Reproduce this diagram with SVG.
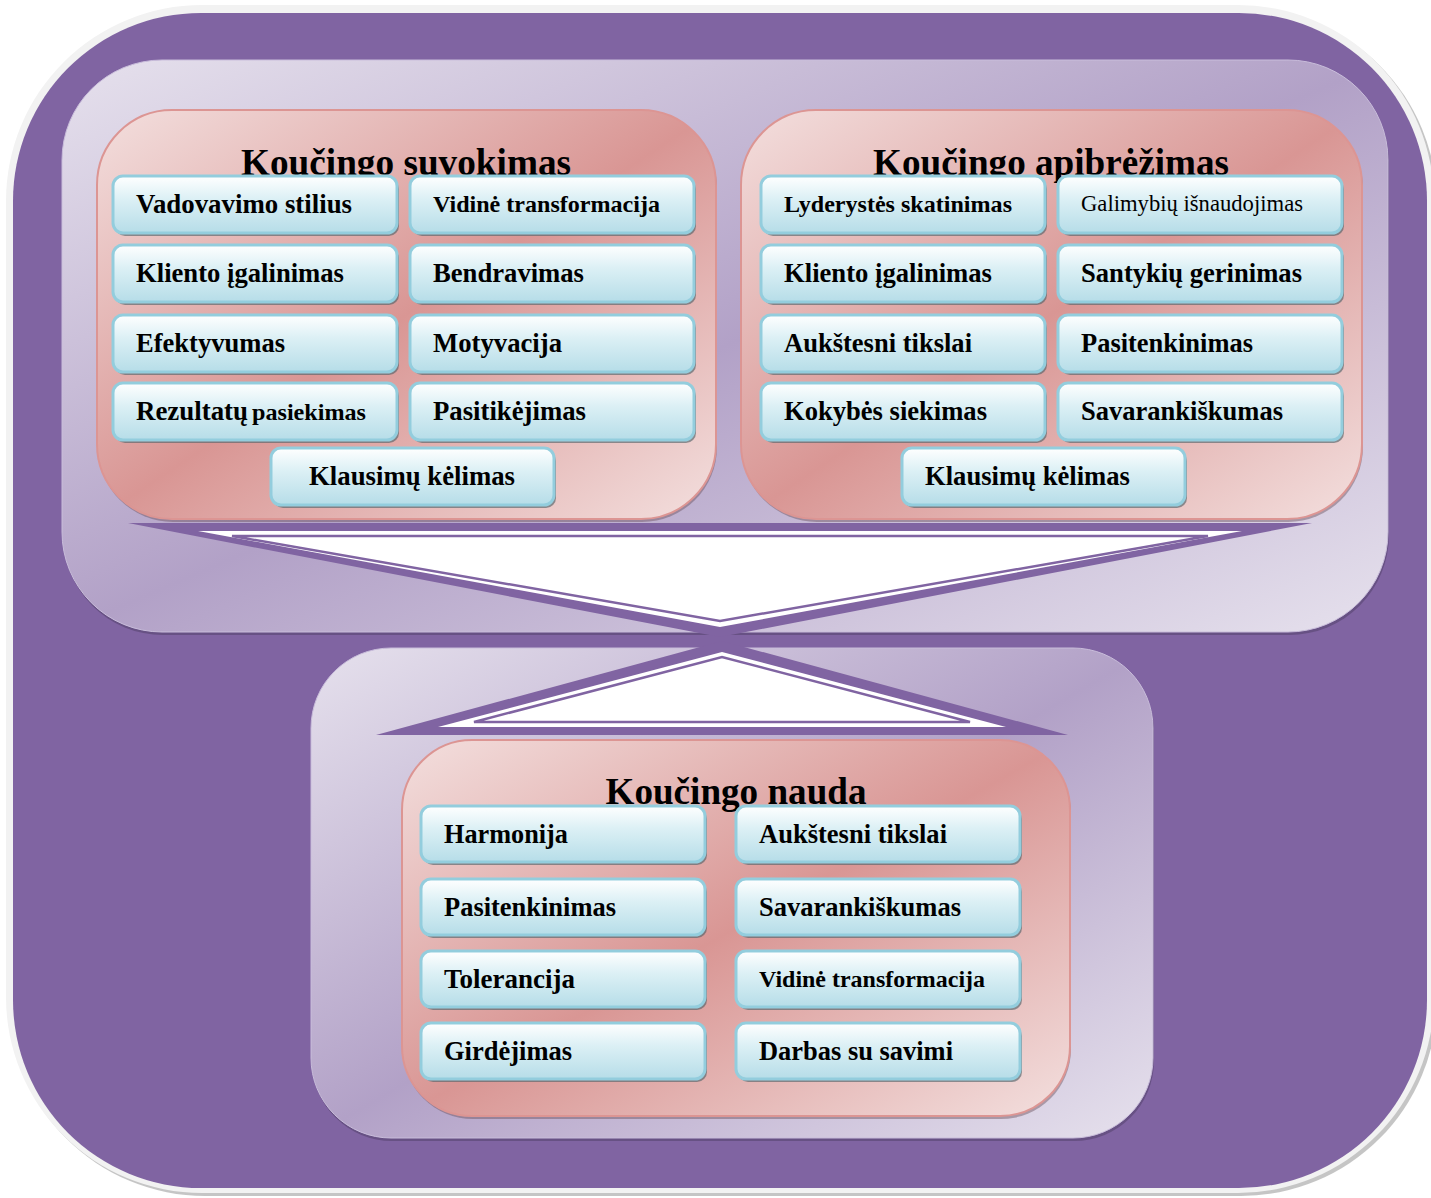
<svg xmlns="http://www.w3.org/2000/svg" width="1431" height="1198" viewBox="0 0 1431 1198">
<defs>
<linearGradient id="lav" x1="0" y1="0" x2="1" y2="1">
<stop offset="0" stop-color="#e6e1ed"/><stop offset="0.5" stop-color="#b2a1c7"/><stop offset="1" stop-color="#e6e1ed"/>
</linearGradient>
<linearGradient id="pink" x1="0" y1="0" x2="1" y2="1">
<stop offset="0" stop-color="#f3dfde"/><stop offset="0.5" stop-color="#d99694"/><stop offset="1" stop-color="#f3dfde"/>
</linearGradient>
<linearGradient id="cyan" x1="0" y1="0" x2="0" y2="1">
<stop offset="0" stop-color="#ffffff"/><stop offset="0.4" stop-color="#dcf0f5"/><stop offset="1" stop-color="#b6dde8"/>
</linearGradient>
</defs>
<style>
.cell{fill:url(#cyan);stroke:#93cddd;stroke-width:3}
.csh{fill:#55666b;opacity:0.65}
.psh{fill:#6b4f5a;opacity:0.45}
.lsh{fill:#4a3a60;opacity:0.45}
.lav{fill:url(#lav);stroke:#c9bddb;stroke-width:1}
.pink{fill:url(#pink);stroke:#dc9593;stroke-width:2}
.t{font-family:"Liberation Serif","Times New Roman",serif;font-weight:bold;font-size:26.5px;fill:#000}
.s{font-size:24px}
.r{font-weight:normal;font-size:22.5px}
.title{font-family:"Liberation Serif","Times New Roman",serif;font-weight:bold;font-size:37.5px;fill:#000;text-anchor:middle}
.pu{fill:#8064a2}
.wh{fill:#ffffff}
.thin{fill:#ffffff;stroke:#8064a2;stroke-width:2.5}
</style>

<g id="background">
<rect x="9" y="8" width="1428" height="1188" rx="196" fill="#8c8c8c" opacity="0.5"/>
<rect x="6" y="5" width="1428" height="1188" rx="196" fill="#f2f2f2"/>
<rect x="13" y="13" width="1414" height="1175" rx="188" class="pu"/>
</g>

<g id="panel-top">
<rect x="63" y="63" width="1326" height="572" rx="100" class="lsh"/>
<rect x="62" y="60" width="1326" height="572" rx="100" class="lav"/>
</g>
<g id="panel-bottom">
<rect x="312" y="651" width="842" height="490" rx="80" class="lsh"/>
<rect x="311" y="648" width="842" height="490" rx="80" class="lav"/>
</g>

<g id="connectors">
<polygon class="pu" points="128,523 1312,523 720,637"/>
<polygon class="wh" points="198,531 1242,531 720,627"/>
<polygon class="thin" points="232,536 1208,536 720,621"/>
<polygon class="pu" points="376,735 1068,735 722,641"/>
<polygon class="wh" points="438,727 1006,727 722,652"/>
<polygon class="thin" points="474,722 970,722 722,657"/>
</g>

<g id="koucingo-suvokimas">
<rect x="98" y="113" width="619" height="409" rx="75" class="psh"/>
<rect x="97" y="110" width="619" height="409" rx="75" class="pink"/>
<text class="title" x="406" y="175" textLength="330" lengthAdjust="spacingAndGlyphs">Koučingo suvokimas</text>
</g>
<g id="koucingo-apibrezimas">
<rect x="742" y="113" width="621" height="409" rx="75" class="psh"/>
<rect x="741" y="110" width="621" height="409" rx="75" class="pink"/>
<text class="title" x="1051" y="175" textLength="356" lengthAdjust="spacingAndGlyphs">Koučingo apibrėžimas</text>
</g>
<g id="koucingo-nauda">
<rect x="403" y="743" width="668" height="376" rx="70" class="psh"/>
<rect x="402" y="740" width="668" height="376" rx="70" class="pink"/>
<text class="title" x="736" y="804" textLength="261" lengthAdjust="spacingAndGlyphs">Koučingo nauda</text>
</g>

<!-- Left panel cells -->
<g id="s1"><rect x="115" y="179" width="284" height="57" rx="10" class="csh"/><rect x="113" y="176" width="284" height="57" rx="10" class="cell"/><text class="t" x="136" y="213" textLength="216" lengthAdjust="spacingAndGlyphs">Vadovavimo stilius</text></g>
<g id="s2"><rect x="412" y="179" width="284" height="57" rx="10" class="csh"/><rect x="410" y="176" width="284" height="57" rx="10" class="cell"/><text class="t s" x="433" y="212" textLength="227" lengthAdjust="spacingAndGlyphs">Vidinė transformacija</text></g>
<g id="s3"><rect x="115" y="248" width="284" height="57" rx="10" class="csh"/><rect x="113" y="245" width="284" height="57" rx="10" class="cell"/><text class="t" x="136" y="282" textLength="208" lengthAdjust="spacingAndGlyphs">Kliento įgalinimas</text></g>
<g id="s4"><rect x="412" y="248" width="284" height="57" rx="10" class="csh"/><rect x="410" y="245" width="284" height="57" rx="10" class="cell"/><text class="t" x="433" y="282" textLength="151" lengthAdjust="spacingAndGlyphs">Bendravimas</text></g>
<g id="s5"><rect x="115" y="318" width="284" height="57" rx="10" class="csh"/><rect x="113" y="315" width="284" height="57" rx="10" class="cell"/><text class="t" x="136" y="352" textLength="149" lengthAdjust="spacingAndGlyphs">Efektyvumas</text></g>
<g id="s6"><rect x="412" y="318" width="284" height="57" rx="10" class="csh"/><rect x="410" y="315" width="284" height="57" rx="10" class="cell"/><text class="t" x="433" y="352" textLength="129" lengthAdjust="spacingAndGlyphs">Motyvacija</text></g>
<g id="s7"><rect x="115" y="386" width="284" height="57" rx="10" class="csh"/><rect x="113" y="383" width="284" height="57" rx="10" class="cell"/><text class="t" x="136" y="420"><tspan textLength="112" lengthAdjust="spacingAndGlyphs">Rezultatų</tspan><tspan class="s" x="252" textLength="114" lengthAdjust="spacingAndGlyphs">pasiekimas</tspan></text></g>
<g id="s8"><rect x="412" y="386" width="284" height="57" rx="10" class="csh"/><rect x="410" y="383" width="284" height="57" rx="10" class="cell"/><text class="t" x="433" y="420" textLength="153" lengthAdjust="spacingAndGlyphs">Pasitikėjimas</text></g>
<g id="s9"><rect x="273" y="451" width="283" height="57" rx="10" class="csh"/><rect x="271" y="448" width="283" height="57" rx="10" class="cell"/><text class="t" x="309" y="485" textLength="206" lengthAdjust="spacingAndGlyphs">Klausimų kėlimas</text></g>

<!-- Right panel cells -->
<g id="a1"><rect x="763" y="179" width="284" height="57" rx="10" class="csh"/><rect x="761" y="176" width="284" height="57" rx="10" class="cell"/><text class="t s" x="784" y="212" textLength="228" lengthAdjust="spacingAndGlyphs">Lyderystės skatinimas</text></g>
<g id="a2"><rect x="1060" y="179" width="284" height="57" rx="10" class="csh"/><rect x="1058" y="176" width="284" height="57" rx="10" class="cell"/><text class="t r" x="1081" y="211" textLength="222" lengthAdjust="spacingAndGlyphs">Galimybių išnaudojimas</text></g>
<g id="a3"><rect x="763" y="248" width="284" height="57" rx="10" class="csh"/><rect x="761" y="245" width="284" height="57" rx="10" class="cell"/><text class="t" x="784" y="282" textLength="208" lengthAdjust="spacingAndGlyphs">Kliento įgalinimas</text></g>
<g id="a4"><rect x="1060" y="248" width="284" height="57" rx="10" class="csh"/><rect x="1058" y="245" width="284" height="57" rx="10" class="cell"/><text class="t" x="1081" y="282" textLength="221" lengthAdjust="spacingAndGlyphs">Santykių gerinimas</text></g>
<g id="a5"><rect x="763" y="318" width="284" height="57" rx="10" class="csh"/><rect x="761" y="315" width="284" height="57" rx="10" class="cell"/><text class="t" x="784" y="352" textLength="188" lengthAdjust="spacingAndGlyphs">Aukštesni tikslai</text></g>
<g id="a6"><rect x="1060" y="318" width="284" height="57" rx="10" class="csh"/><rect x="1058" y="315" width="284" height="57" rx="10" class="cell"/><text class="t" x="1081" y="352" textLength="172" lengthAdjust="spacingAndGlyphs">Pasitenkinimas</text></g>
<g id="a7"><rect x="763" y="386" width="284" height="57" rx="10" class="csh"/><rect x="761" y="383" width="284" height="57" rx="10" class="cell"/><text class="t" x="784" y="420" textLength="203" lengthAdjust="spacingAndGlyphs">Kokybės siekimas</text></g>
<g id="a8"><rect x="1060" y="386" width="284" height="57" rx="10" class="csh"/><rect x="1058" y="383" width="284" height="57" rx="10" class="cell"/><text class="t" x="1081" y="420" textLength="202" lengthAdjust="spacingAndGlyphs">Savarankiškumas</text></g>
<g id="a9"><rect x="904" y="451" width="283" height="57" rx="10" class="csh"/><rect x="902" y="448" width="283" height="57" rx="10" class="cell"/><text class="t" x="925" y="485" textLength="205" lengthAdjust="spacingAndGlyphs">Klausimų kėlimas</text></g>

<!-- Bottom panel cells -->
<g id="n1"><rect x="423" y="809" width="284" height="56" rx="10" class="csh"/><rect x="421" y="806" width="284" height="56" rx="10" class="cell"/><text class="t" x="444" y="843" textLength="124" lengthAdjust="spacingAndGlyphs">Harmonija</text></g>
<g id="n2"><rect x="738" y="809" width="284" height="56" rx="10" class="csh"/><rect x="736" y="806" width="284" height="56" rx="10" class="cell"/><text class="t" x="759" y="843" textLength="188" lengthAdjust="spacingAndGlyphs">Aukštesni tikslai</text></g>
<g id="n3"><rect x="423" y="882" width="284" height="56" rx="10" class="csh"/><rect x="421" y="879" width="284" height="56" rx="10" class="cell"/><text class="t" x="444" y="916" textLength="172" lengthAdjust="spacingAndGlyphs">Pasitenkinimas</text></g>
<g id="n4"><rect x="738" y="882" width="284" height="56" rx="10" class="csh"/><rect x="736" y="879" width="284" height="56" rx="10" class="cell"/><text class="t" x="759" y="916" textLength="202" lengthAdjust="spacingAndGlyphs">Savarankiškumas</text></g>
<g id="n5"><rect x="423" y="954" width="284" height="56" rx="10" class="csh"/><rect x="421" y="951" width="284" height="56" rx="10" class="cell"/><text class="t" x="444" y="988" textLength="131" lengthAdjust="spacingAndGlyphs">Tolerancija</text></g>
<g id="n6"><rect x="738" y="954" width="284" height="56" rx="10" class="csh"/><rect x="736" y="951" width="284" height="56" rx="10" class="cell"/><text class="t s" x="759" y="987" textLength="226" lengthAdjust="spacingAndGlyphs">Vidinė transformacija</text></g>
<g id="n7"><rect x="423" y="1026" width="284" height="56" rx="10" class="csh"/><rect x="421" y="1023" width="284" height="56" rx="10" class="cell"/><text class="t" x="444" y="1060" textLength="128" lengthAdjust="spacingAndGlyphs">Girdėjimas</text></g>
<g id="n8"><rect x="738" y="1026" width="284" height="56" rx="10" class="csh"/><rect x="736" y="1023" width="284" height="56" rx="10" class="cell"/><text class="t" x="759" y="1060" textLength="194" lengthAdjust="spacingAndGlyphs">Darbas su savimi</text></g>
</svg>
